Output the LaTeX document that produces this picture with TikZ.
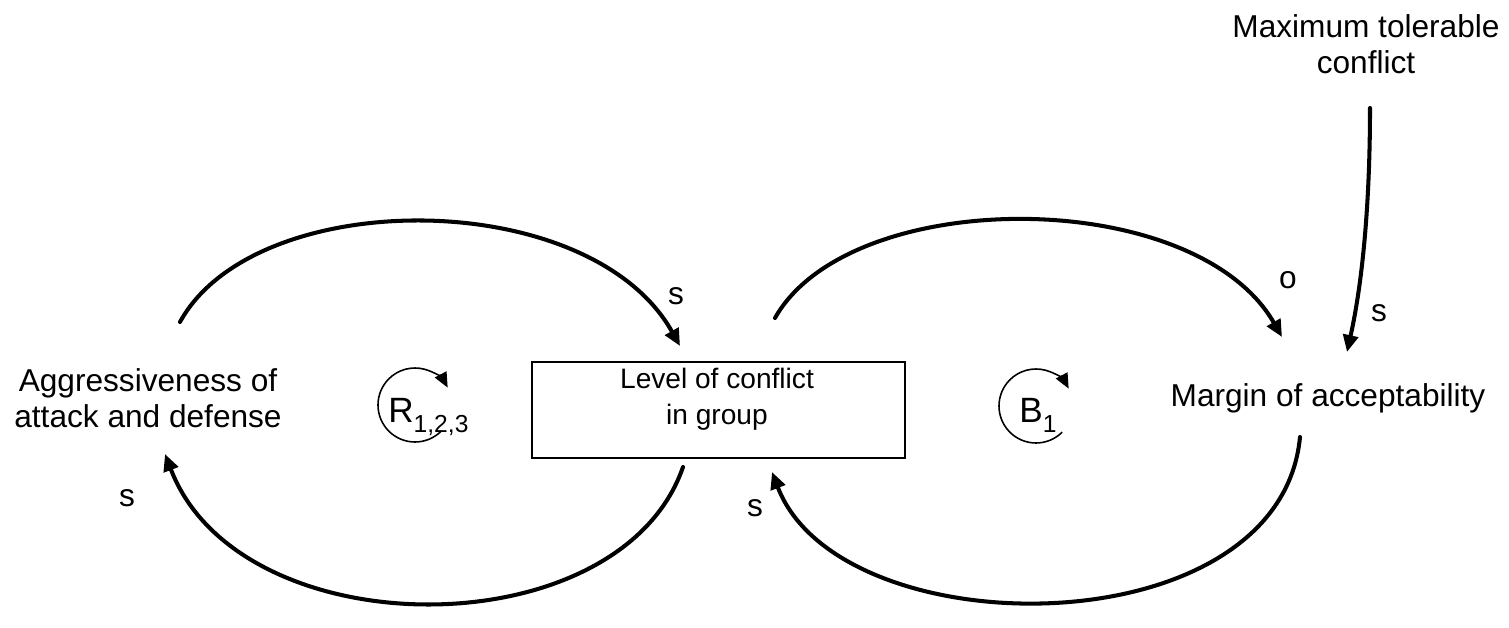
\documentclass[tikz,border=0pt]{standalone}
\usepackage{fontspec}
\setmainfont{Liberation Sans}
\usetikzlibrary{arrows.meta}
\begin{document}
\begin{tikzpicture}[x=0.02cm, y=-0.02cm,
  lbl/.style={font=\fontsize{18}{20.5}\selectfont, align=center, inner sep=0pt},
  boxtext/.style={font=\fontsize{16}{20.5}\selectfont, align=center, inner sep=0pt},
  pol/.style={font=\fontsize{18}{20.5}\selectfont, inner sep=0pt},
  stockbox/.style={draw, line width=1.1pt, minimum width=7.46cm, minimum height=1.92cm, inner sep=0pt},
  link/.style={line width=2.3pt, line cap=round, -{Triangle[length=0.34cm, width=0.3cm]}},
  loopline/.style={line width=0.9pt, -{Triangle[length=0.3cm, width=0.26cm]}},
  looplabel/.style={inner sep=0pt, anchor=base west}
]
\useasboundingbox (0,0) rectangle (1509,628);

% variables
\node[lbl] (agg) at (148,398) {Aggressiveness of\\attack and defense};
\node[stockbox] (lev) at (718.5,410) {};
\node[boxtext] (levtext) at (717,399) {Level of conflict\\in group};
\node[lbl] (mar) at (1328,398) {Margin of acceptability};
\node[lbl] (max) at (1366,44) {Maximum tolerable\\conflict};

% arc end points around the variables
\coordinate (aggTop) at (180,322);
\coordinate (aggIn) at (165,454);
\coordinate (levInTop) at (680,346);
\coordinate (levOutBot) at (683,467);
\coordinate (levOutTop) at (775,318);
\coordinate (levInBot) at (772,472);
\coordinate (marInTop) at (1282,337);
\coordinate (marOutBot) at (1300,437);
\coordinate (maxOut) at (1370,108);
\coordinate (marInMax) at (1347,352);

% causal links
\draw[link] (aggTop) .. controls (255,185) and (590,185) .. (levInTop);
\draw[link] (levOutBot) .. controls (620,650) and (240,650) .. (aggIn);
\draw[link] (levOutTop) .. controls (850,185) and (1195,185) .. (marInTop);
\draw[link] (marOutBot) .. controls (1280,650) and (840,650) .. (levInBot);
\draw[link] (maxOut) .. controls (1370,200) and (1363,280) .. (marInMax);

% link polarities
\node[pol] (p1) at (676,296) {s};
\node[pol] (p2) at (127,498) {s};
\node[pol] (p3) at (1288,280) {o};
\node[pol] (p4) at (1379,313) {s};
\node[pol] (p5) at (755,508) {s};

% loop identifiers (y axis points down, so angles run clockwise on the page)
\coordinate (rc) at (415,405);
\coordinate (bc) at (1036,406);
\draw[loopline] (rc) ++(45:37) arc[start angle=45, end angle=332, radius=37];
\draw[loopline] (bc) ++(45:37) arc[start angle=45, end angle=332, radius=37];
\node[looplabel] (rlab) at (388,422) {\fontsize{20}{20}\selectfont R\raisebox{-0.21cm}{\fontsize{14}{14}\selectfont 1,2,3}};
\node[looplabel] (blab) at (1019,422) {\fontsize{20}{20}\selectfont B\raisebox{-0.21cm}{\fontsize{14}{14}\selectfont 1}};
\end{tikzpicture}
\end{document}
